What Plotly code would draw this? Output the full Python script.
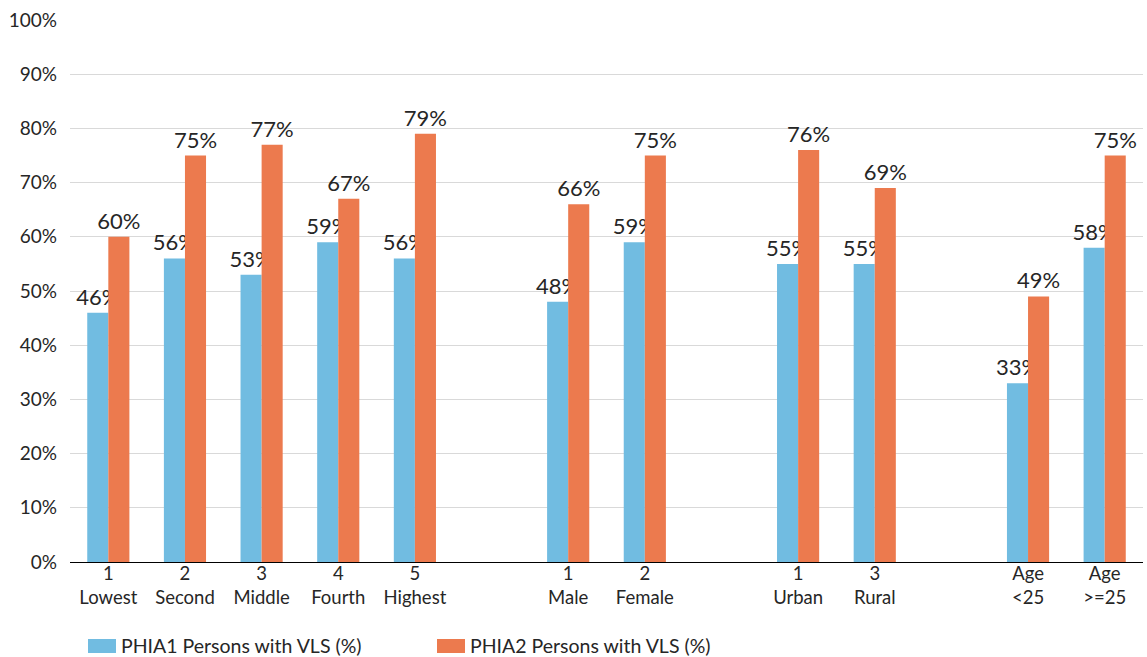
import plotly.graph_objects as go

# Category slots along the x axis (blank entries separate the groups)
categories = [
    "1<br>Lowest", "2<br>Second", "3<br>Middle", "4<br>Fourth", "5<br>Highest",
    " ",
    "1<br>Male", "2<br>Female",
    "  ",
    "1<br>Urban", "3<br>Rural",
    "   ",
    "Age<br><25", "Age<br>>=25",
]

# Viral load suppression (%) per survey round
phia1 = [46, 56, 53, 59, 56, None, 48, 59, None, 55, 55, None, 33, 58]
phia2 = [60, 75, 77, 67, 79, None, 66, 75, None, 76, 69, None, 49, 75]

series_names = ["PHIA1 Persons with VLS (%)", "PHIA2 Persons with VLS (%)"]
colors = ["#71BCE1", "#EC7A4E"]

y_ticks = list(range(0, 101, 10))
y_tick_text = [f"{v}%" for v in y_ticks]

font_family = "Lato, 'Open Sans', sans-serif"
text_color = "#262626"

fig = go.Figure()
for name, vals, col in zip(series_names, [phia1, phia2], colors):
    fig.add_trace(go.Bar(
        x=categories,
        y=vals,
        name=name,
        marker=dict(color=col, line=dict(width=0)),
        text=[f"{v}%" if v is not None else "" for v in vals],
        textposition="outside",
        textfont=dict(size=22, color=text_color, family=font_family),
        constraintext="none",
        cliponaxis=False,
        showlegend=False,
    ))

fig.update_layout(
    width=1147,
    height=657,
    margin=dict(l=70, r=4, t=20, b=95),
    paper_bgcolor="white",
    plot_bgcolor="white",
    barmode="group",
    bargap=0.45,
    bargroupgap=0,
    font=dict(family=font_family, color=text_color, size=18),
    xaxis=dict(
        type="category",
        categoryorder="array",
        categoryarray=categories,
        showline=True,
        linecolor="#000000",
        linewidth=1,
        ticks="",
        showgrid=False,
        tickfont=dict(size=18.5, color=text_color),
        ticklabelstandoff=-5,
        fixedrange=True,
    ),
    yaxis=dict(
        range=[0, 100],
        tickvals=y_ticks,
        ticktext=y_tick_text,
        showgrid=True,
        gridcolor="#D9D9D9",
        gridwidth=1,
        zeroline=False,
        showline=False,
        ticks="",
        tickfont=dict(size=19, color=text_color),
        ticklabelstandoff=12,
        fixedrange=True,
    ),
)

# Legend drawn below the axis: colour swatch plus label for each series
legend_items = [(88, series_names[0], colors[0]), (437, series_names[1], colors[1])]
for x0, label, col in legend_items:
    fig.add_shape(
        type="rect", xref="paper", yref="paper",
        x0=(x0 - 70) / 1073, x1=(x0 + 28 - 70) / 1073,
        y0=(562 - 653) / 542, y1=(562 - 639) / 542,
        fillcolor=col, line=dict(width=0),
    )
    fig.add_annotation(
        xref="paper", yref="paper",
        x=(x0 + 31 - 70) / 1073, y=(562 - 645) / 542,
        text=label, showarrow=False,
        xanchor="left", yanchor="middle",
        font=dict(size=19.5, color=text_color, family=font_family),
    )

fig.write_html("out.html")
